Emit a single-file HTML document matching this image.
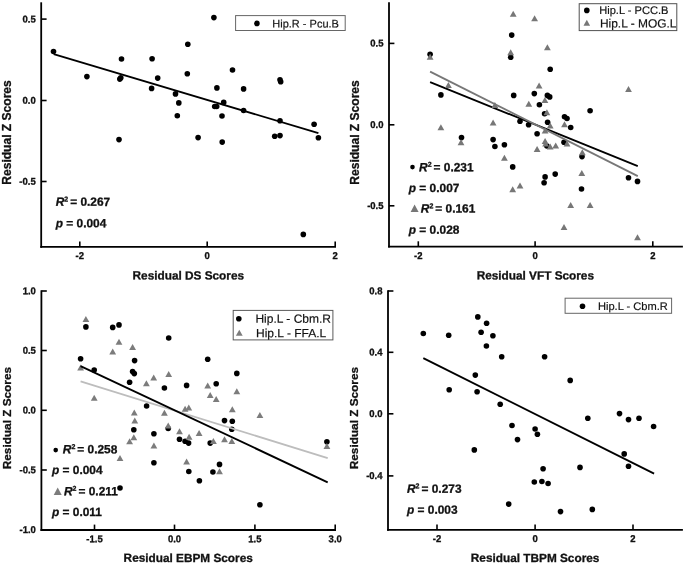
<!DOCTYPE html>
<html><head><meta charset="utf-8"><title>Figure</title>
<style>
html,body{margin:0;padding:0;background:#fff;}
svg{display:block;will-change:transform;filter:blur(0.35px);font-family:'Liberation Sans', sans-serif;}
text{fill:#111;}
text{stroke:#111;stroke-width:0.18px;}
text[font-weight=bold]{stroke:#111;stroke-width:0.3px;}
</style></head>
<body>
<svg width="685" height="564" viewBox="0 0 685 564" font-family="'Liberation Sans', sans-serif">
<rect width="685" height="564" fill="#fff"/>
<line x1="41.2" y1="2.3" x2="41.2" y2="247.8" stroke="#000" stroke-width="1.8"/>
<line x1="40.300000000000004" y1="246.9" x2="336" y2="246.9" stroke="#000" stroke-width="1.8"/>
<line x1="41.2" y1="19.1" x2="46.6" y2="19.1" stroke="#000" stroke-width="1.6"/>
<text transform="translate(35.7,22.4) rotate(0.03) scale(1,1.04)" font-size="9.5" font-weight="bold" text-anchor="end">0.5</text>
<line x1="41.2" y1="100.5" x2="46.6" y2="100.5" stroke="#000" stroke-width="1.6"/>
<text transform="translate(35.7,103.8) rotate(0.03) scale(1,1.04)" font-size="9.5" font-weight="bold" text-anchor="end">0.0</text>
<line x1="41.2" y1="181.5" x2="46.6" y2="181.5" stroke="#000" stroke-width="1.6"/>
<text transform="translate(35.7,184.8) rotate(0.03) scale(1,1.04)" font-size="9.5" font-weight="bold" text-anchor="end">-0.5</text>
<line x1="79.8" y1="246.9" x2="79.8" y2="241.5" stroke="#000" stroke-width="1.6"/>
<text transform="translate(79.8,259.1) rotate(0.03) scale(1,1.04)" font-size="9.5" font-weight="bold" text-anchor="middle">-2</text>
<line x1="207.2" y1="246.9" x2="207.2" y2="241.5" stroke="#000" stroke-width="1.6"/>
<text transform="translate(207.2,259.1) rotate(0.03) scale(1,1.04)" font-size="9.5" font-weight="bold" text-anchor="middle">0</text>
<line x1="335.2" y1="246.9" x2="335.2" y2="241.5" stroke="#000" stroke-width="1.6"/>
<text transform="translate(335.2,259.1) rotate(0.03) scale(1,1.04)" font-size="9.5" font-weight="bold" text-anchor="middle">2</text>
<line x1="53.7" y1="54.2" x2="318.4" y2="133.1" stroke="#000" stroke-width="1.85"/>
<circle cx="53.5" cy="51.5" r="2.8" fill="#000"/>
<circle cx="86.9" cy="76.6" r="2.8" fill="#000"/>
<circle cx="121.5" cy="59.0" r="2.8" fill="#000"/>
<circle cx="152.1" cy="58.7" r="2.8" fill="#000"/>
<circle cx="120.8" cy="77.8" r="2.8" fill="#000"/>
<circle cx="119.8" cy="79.1" r="2.8" fill="#000"/>
<circle cx="157.7" cy="78.1" r="2.8" fill="#000"/>
<circle cx="151.6" cy="88.4" r="2.8" fill="#000"/>
<circle cx="119.0" cy="139.6" r="2.8" fill="#000"/>
<circle cx="213.9" cy="17.6" r="2.8" fill="#000"/>
<circle cx="187.8" cy="44.2" r="2.8" fill="#000"/>
<circle cx="187.3" cy="73.8" r="2.8" fill="#000"/>
<circle cx="232.5" cy="70.0" r="2.8" fill="#000"/>
<circle cx="175.5" cy="93.9" r="2.8" fill="#000"/>
<circle cx="178.8" cy="102.9" r="2.8" fill="#000"/>
<circle cx="177.3" cy="115.7" r="2.8" fill="#000"/>
<circle cx="216.9" cy="87.9" r="2.8" fill="#000"/>
<circle cx="243.6" cy="88.9" r="2.8" fill="#000"/>
<circle cx="223.7" cy="102.4" r="2.8" fill="#000"/>
<circle cx="214.7" cy="106.5" r="2.8" fill="#000"/>
<circle cx="216.7" cy="106.5" r="2.8" fill="#000"/>
<circle cx="222.0" cy="116.0" r="2.8" fill="#000"/>
<circle cx="243.6" cy="110.5" r="2.8" fill="#000"/>
<circle cx="280.0" cy="79.8" r="2.8" fill="#000"/>
<circle cx="280.7" cy="81.8" r="2.8" fill="#000"/>
<circle cx="280.0" cy="120.8" r="2.8" fill="#000"/>
<circle cx="314.1" cy="124.3" r="2.8" fill="#000"/>
<circle cx="198.1" cy="137.6" r="2.8" fill="#000"/>
<circle cx="222.2" cy="142.1" r="2.8" fill="#000"/>
<circle cx="274.7" cy="136.3" r="2.8" fill="#000"/>
<circle cx="280.0" cy="135.6" r="2.8" fill="#000"/>
<circle cx="318.4" cy="137.8" r="2.8" fill="#000"/>
<circle cx="303.3" cy="234.4" r="2.8" fill="#000"/>
<rect x="235.6" y="15.6" width="109.6" height="14.9" fill="#fff" stroke="#666" stroke-width="1"/>
<circle cx="256.9" cy="23.4" r="2.8" fill="#000"/>
<text transform="translate(272.3,27.4) rotate(0.03)" font-size="11" font-weight="normal" text-anchor="start" >Hip.R - Pcu.B</text>
<text transform="translate(55.7,205.85) rotate(0.03)" font-size="11.9" font-weight="bold"><tspan font-style="italic">R</tspan><tspan font-size="7" dy="-4.4">2</tspan><tspan dy="4.4" dx="-1.3"> = 0.267</tspan></text>
<text transform="translate(55.7,227.20) rotate(0.03)" font-size="11.9" font-weight="bold"><tspan font-style="italic">p</tspan> = 0.004</text>
<text transform="translate(188.3,279.4) rotate(0.03)" font-size="11.8" font-weight="bold" text-anchor="middle" >Residual DS Scores</text>
<text transform="translate(11.0,132.5) rotate(-90)" font-size="12.05" font-weight="bold" text-anchor="middle">Residual Z Scores</text>
<line x1="389.0" y1="2.3" x2="389.0" y2="247.6" stroke="#000" stroke-width="1.8"/>
<line x1="388.1" y1="246.7" x2="682.9" y2="246.7" stroke="#000" stroke-width="1.8"/>
<line x1="389.0" y1="43.4" x2="394.4" y2="43.4" stroke="#000" stroke-width="1.6"/>
<text transform="translate(383.5,46.6) rotate(0.03) scale(1,1.04)" font-size="9.5" font-weight="bold" text-anchor="end">0.5</text>
<line x1="389.0" y1="124.8" x2="394.4" y2="124.8" stroke="#000" stroke-width="1.6"/>
<text transform="translate(383.5,128.1) rotate(0.03) scale(1,1.04)" font-size="9.5" font-weight="bold" text-anchor="end">0.0</text>
<line x1="389.0" y1="205.8" x2="394.4" y2="205.8" stroke="#000" stroke-width="1.6"/>
<text transform="translate(383.5,209.1) rotate(0.03) scale(1,1.04)" font-size="9.5" font-weight="bold" text-anchor="end">-0.5</text>
<line x1="418.3" y1="246.7" x2="418.3" y2="241.29999999999998" stroke="#000" stroke-width="1.6"/>
<text transform="translate(418.3,258.9) rotate(0.03) scale(1,1.04)" font-size="9.5" font-weight="bold" text-anchor="middle">-2</text>
<line x1="535.1" y1="246.7" x2="535.1" y2="241.29999999999998" stroke="#000" stroke-width="1.6"/>
<text transform="translate(535.1,258.9) rotate(0.03) scale(1,1.04)" font-size="9.5" font-weight="bold" text-anchor="middle">0</text>
<line x1="652.8" y1="246.7" x2="652.8" y2="241.29999999999998" stroke="#000" stroke-width="1.6"/>
<text transform="translate(652.8,258.9) rotate(0.03) scale(1,1.04)" font-size="9.5" font-weight="bold" text-anchor="middle">2</text>
<circle cx="430.1" cy="54.2" r="2.8" fill="#000"/>
<circle cx="440.9" cy="94.9" r="2.8" fill="#000"/>
<circle cx="461.5" cy="137.6" r="2.8" fill="#000"/>
<circle cx="493.1" cy="139.6" r="2.8" fill="#000"/>
<circle cx="511.7" cy="35.1" r="2.8" fill="#000"/>
<circle cx="510.7" cy="57.2" r="2.8" fill="#000"/>
<circle cx="513.7" cy="95.4" r="2.8" fill="#000"/>
<circle cx="550.2" cy="69.3" r="2.8" fill="#000"/>
<circle cx="534.3" cy="93.6" r="2.8" fill="#000"/>
<circle cx="547.4" cy="95.4" r="2.8" fill="#000"/>
<circle cx="549.7" cy="96.9" r="2.8" fill="#000"/>
<circle cx="539.4" cy="104.7" r="2.8" fill="#000"/>
<circle cx="544.6" cy="113.7" r="2.8" fill="#000"/>
<circle cx="547.6" cy="122.3" r="2.8" fill="#000"/>
<circle cx="564.5" cy="116.7" r="2.8" fill="#000"/>
<circle cx="567.0" cy="118.5" r="2.8" fill="#000"/>
<circle cx="570.7" cy="127.5" r="2.8" fill="#000"/>
<circle cx="590.1" cy="110.7" r="2.8" fill="#000"/>
<circle cx="520.0" cy="121.3" r="2.8" fill="#000"/>
<circle cx="528.6" cy="124.8" r="2.8" fill="#000"/>
<circle cx="537.1" cy="133.8" r="2.8" fill="#000"/>
<circle cx="494.9" cy="146.5" r="2.8" fill="#000"/>
<circle cx="504.4" cy="144.8" r="2.8" fill="#000"/>
<circle cx="512.7" cy="166.9" r="2.8" fill="#000"/>
<circle cx="546.9" cy="146.0" r="2.8" fill="#000"/>
<circle cx="564.0" cy="142.3" r="2.8" fill="#000"/>
<circle cx="582.0" cy="156.6" r="2.8" fill="#000"/>
<circle cx="555.2" cy="174.1" r="2.8" fill="#000"/>
<circle cx="545.1" cy="176.9" r="2.8" fill="#000"/>
<circle cx="544.1" cy="182.7" r="2.8" fill="#000"/>
<circle cx="581.5" cy="189.0" r="2.8" fill="#000"/>
<circle cx="628.5" cy="177.7" r="2.8" fill="#000"/>
<circle cx="637.5" cy="181.4" r="2.8" fill="#000"/>
<line x1="430.1" y1="82.1" x2="637.8" y2="166.1" stroke="#000" stroke-width="1.85"/>
<polygon points="426.7,59.7 433.5,59.7 430.1,53.7" fill="#777777"/>
<polygon points="445.0,87.9 451.8,87.9 448.4,81.9" fill="#777777"/>
<polygon points="437.5,130.3 444.3,130.3 440.9,124.3" fill="#777777"/>
<polygon points="491.5,107.9 498.3,107.9 494.9,101.9" fill="#777777"/>
<polygon points="489.7,125.5 496.5,125.5 493.1,119.5" fill="#777777"/>
<polygon points="509.8,16.8 516.6,16.8 513.2,10.8" fill="#777777"/>
<polygon points="507.3,55.2 514.1,55.2 510.7,49.2" fill="#777777"/>
<polygon points="531.2,21.3 538.0,21.3 534.6,15.3" fill="#777777"/>
<polygon points="544.0,50.2 550.8,50.2 547.4,44.2" fill="#777777"/>
<polygon points="535.7,88.4 542.5,88.4 539.1,82.4" fill="#777777"/>
<polygon points="525.4,106.7 532.2,106.7 528.8,100.7" fill="#777777"/>
<polygon points="541.5,102.9 548.3,102.9 544.9,96.9" fill="#777777"/>
<polygon points="543.5,115.2 550.3,115.2 546.9,109.2" fill="#777777"/>
<polygon points="546.8,128.5 553.6,128.5 550.2,122.5" fill="#777777"/>
<polygon points="541.7,133.6 548.5,133.6 545.1,127.6" fill="#777777"/>
<polygon points="561.1,127.3 567.9,127.3 564.5,121.3" fill="#777777"/>
<polygon points="625.1,91.9 631.9,91.9 628.5,85.9" fill="#777777"/>
<polygon points="541.7,144.1 548.5,144.1 545.1,138.1" fill="#777777"/>
<polygon points="457.6,145.3 464.4,145.3 461.0,139.3" fill="#777777"/>
<polygon points="501.0,160.8 507.8,160.8 504.4,154.8" fill="#777777"/>
<polygon points="509.3,192.2 516.1,192.2 512.7,186.2" fill="#777777"/>
<polygon points="533.7,152.0 540.5,152.0 537.1,146.0" fill="#777777"/>
<polygon points="542.2,146.5 549.0,146.5 545.6,140.5" fill="#777777"/>
<polygon points="546.8,149.5 553.6,149.5 550.2,143.5" fill="#777777"/>
<polygon points="552.3,148.5 559.1,148.5 555.7,142.5" fill="#777777"/>
<polygon points="563.6,146.5 570.4,146.5 567.0,140.5" fill="#777777"/>
<polygon points="578.9,155.3 585.7,155.3 582.3,149.3" fill="#777777"/>
<polygon points="578.4,175.9 585.2,175.9 581.8,169.9" fill="#777777"/>
<polygon points="516.6,188.4 523.4,188.4 520.0,182.4" fill="#777777"/>
<polygon points="567.3,208.0 574.1,208.0 570.7,202.0" fill="#777777"/>
<polygon points="586.7,208.0 593.5,208.0 590.1,202.0" fill="#777777"/>
<polygon points="560.6,230.1 567.4,230.1 564.0,224.1" fill="#777777"/>
<polygon points="634.1,240.2 640.9,240.2 637.5,234.2" fill="#777777"/>
<line x1="430.1" y1="71.6" x2="637.8" y2="176.1" stroke="#777777" stroke-width="1.85"/>
<rect x="579.2" y="3.7" width="97.6" height="26.9" fill="#fff" stroke="#505050" stroke-width="1"/>
<circle cx="586.8" cy="10.4" r="2.8" fill="#000"/>
<text transform="translate(599.2,13.9) rotate(0.03)" font-size="11.1" font-weight="normal" text-anchor="start" >Hip.L - PCC.B</text>
<polygon points="583.5,25.8 590.1,25.8 586.8,19.8" fill="#777777"/>
<text transform="translate(599.9,27.4) rotate(0.03)" font-size="11.95" font-weight="normal" text-anchor="start" >Hip.L - MOG.L</text>
<circle cx="412.5" cy="167.1" r="2.3" fill="#000"/>
<text transform="translate(419.1,171.15) rotate(0.03)" font-size="11.9" font-weight="bold"><tspan font-style="italic">R</tspan><tspan font-size="7" dy="-4.4">2</tspan><tspan dy="4.4" dx="-1.3"> = 0.231</tspan></text>
<text transform="translate(408.8,192.00) rotate(0.03)" font-size="11.9" font-weight="bold"><tspan font-style="italic">p</tspan> = 0.007</text>
<polygon points="410.6,212.0 418.6,212.0 414.6,204.6" fill="#777777"/>
<text transform="translate(420.8,212.55) rotate(0.03)" font-size="11.9" font-weight="bold"><tspan font-style="italic">R</tspan><tspan font-size="7" dy="-4.4">2</tspan><tspan dy="4.4" dx="-1.3"> = 0.161</tspan></text>
<text transform="translate(408.8,233.70) rotate(0.03)" font-size="11.9" font-weight="bold"><tspan font-style="italic">p</tspan> = 0.028</text>
<text transform="translate(535.3,279.4) rotate(0.03)" font-size="11.8" font-weight="bold" text-anchor="middle" >Residual VFT Scores</text>
<text transform="translate(359.0,132.5) rotate(-90)" font-size="12.05" font-weight="bold" text-anchor="middle">Residual Z Scores</text>
<line x1="41.4" y1="290.3" x2="41.4" y2="530.9" stroke="#000" stroke-width="1.8"/>
<line x1="40.5" y1="530.0" x2="336" y2="530.0" stroke="#000" stroke-width="1.8"/>
<line x1="41.4" y1="291" x2="46.8" y2="291" stroke="#000" stroke-width="1.6"/>
<text transform="translate(35.9,294.2) rotate(0.03) scale(1,1.04)" font-size="9.5" font-weight="bold" text-anchor="end">1.0</text>
<line x1="41.4" y1="350.5" x2="46.8" y2="350.5" stroke="#000" stroke-width="1.6"/>
<text transform="translate(35.9,353.8) rotate(0.03) scale(1,1.04)" font-size="9.5" font-weight="bold" text-anchor="end">0.5</text>
<line x1="41.4" y1="410.3" x2="46.8" y2="410.3" stroke="#000" stroke-width="1.6"/>
<text transform="translate(35.9,413.6) rotate(0.03) scale(1,1.04)" font-size="9.5" font-weight="bold" text-anchor="end">0.0</text>
<line x1="41.4" y1="470" x2="46.8" y2="470" stroke="#000" stroke-width="1.6"/>
<text transform="translate(35.9,473.2) rotate(0.03) scale(1,1.04)" font-size="9.5" font-weight="bold" text-anchor="end">-0.5</text>
<text transform="translate(35.9,533.0) rotate(0.03) scale(1,1.04)" font-size="9.5" font-weight="bold" text-anchor="end">-1.0</text>
<line x1="94.5" y1="530.0" x2="94.5" y2="524.6" stroke="#000" stroke-width="1.6"/>
<text transform="translate(94.5,542.2) rotate(0.03) scale(1,1.04)" font-size="9.5" font-weight="bold" text-anchor="middle">-1.5</text>
<line x1="174.5" y1="530.0" x2="174.5" y2="524.6" stroke="#000" stroke-width="1.6"/>
<text transform="translate(174.5,542.2) rotate(0.03) scale(1,1.04)" font-size="9.5" font-weight="bold" text-anchor="middle">0.0</text>
<line x1="254.9" y1="530.0" x2="254.9" y2="524.6" stroke="#000" stroke-width="1.6"/>
<text transform="translate(254.9,542.2) rotate(0.03) scale(1,1.04)" font-size="9.5" font-weight="bold" text-anchor="middle">1.5</text>
<line x1="335.2" y1="530.0" x2="335.2" y2="524.6" stroke="#000" stroke-width="1.6"/>
<text transform="translate(335.2,542.2) rotate(0.03) scale(1,1.04)" font-size="9.5" font-weight="bold" text-anchor="middle">3.0</text>
<circle cx="85.9" cy="326.9" r="2.8" fill="#000"/>
<circle cx="112.7" cy="327.4" r="2.8" fill="#000"/>
<circle cx="119.0" cy="324.9" r="2.8" fill="#000"/>
<circle cx="80.6" cy="358.8" r="2.8" fill="#000"/>
<circle cx="94.2" cy="370.1" r="2.8" fill="#000"/>
<circle cx="134.6" cy="360.6" r="2.8" fill="#000"/>
<circle cx="132.6" cy="371.6" r="2.8" fill="#000"/>
<circle cx="134.3" cy="373.6" r="2.8" fill="#000"/>
<circle cx="129.6" cy="382.2" r="2.8" fill="#000"/>
<circle cx="168.7" cy="338.0" r="2.8" fill="#000"/>
<circle cx="164.4" cy="388.0" r="2.8" fill="#000"/>
<circle cx="146.6" cy="406.0" r="2.8" fill="#000"/>
<circle cx="207.7" cy="359.3" r="2.8" fill="#000"/>
<circle cx="236.8" cy="373.4" r="2.8" fill="#000"/>
<circle cx="186.6" cy="385.4" r="2.8" fill="#000"/>
<circle cx="216.2" cy="383.7" r="2.8" fill="#000"/>
<circle cx="224.5" cy="420.6" r="2.8" fill="#000"/>
<circle cx="232.3" cy="421.3" r="2.8" fill="#000"/>
<circle cx="133.8" cy="429.8" r="2.8" fill="#000"/>
<circle cx="153.9" cy="433.8" r="2.8" fill="#000"/>
<circle cx="168.2" cy="428.5" r="2.8" fill="#000"/>
<circle cx="153.9" cy="462.7" r="2.8" fill="#000"/>
<circle cx="120.0" cy="488.0" r="2.8" fill="#000"/>
<circle cx="179.5" cy="439.3" r="2.8" fill="#000"/>
<circle cx="185.1" cy="441.3" r="2.8" fill="#000"/>
<circle cx="188.6" cy="443.1" r="2.8" fill="#000"/>
<circle cx="210.2" cy="443.1" r="2.8" fill="#000"/>
<circle cx="231.8" cy="429.3" r="2.8" fill="#000"/>
<circle cx="188.8" cy="471.5" r="2.8" fill="#000"/>
<circle cx="212.9" cy="472.0" r="2.8" fill="#000"/>
<circle cx="219.5" cy="464.4" r="2.8" fill="#000"/>
<circle cx="199.4" cy="480.7" r="2.8" fill="#000"/>
<circle cx="259.9" cy="504.8" r="2.8" fill="#000"/>
<circle cx="326.9" cy="441.8" r="2.8" fill="#000"/>
<line x1="80.6" y1="381.3" x2="327.7" y2="458.2" stroke="#bdbdbd" stroke-width="1.85"/>
<polygon points="82.5,321.9 89.3,321.9 85.9,315.9" fill="#7c7c7c"/>
<polygon points="115.6,344.8 122.4,344.8 119.0,338.8" fill="#7c7c7c"/>
<polygon points="109.3,354.5 116.1,354.5 112.7,348.5" fill="#7c7c7c"/>
<polygon points="129.2,350.0 136.0,350.0 132.6,344.0" fill="#7c7c7c"/>
<polygon points="77.2,370.6 84.0,370.6 80.6,364.6" fill="#7c7c7c"/>
<polygon points="90.8,400.7 97.6,400.7 94.2,394.7" fill="#7c7c7c"/>
<polygon points="143.0,386.2 149.8,386.2 146.4,380.2" fill="#7c7c7c"/>
<polygon points="150.3,380.4 157.1,380.4 153.7,374.4" fill="#7c7c7c"/>
<polygon points="165.3,376.9 172.1,376.9 168.7,370.9" fill="#7c7c7c"/>
<polygon points="130.9,415.6 137.7,415.6 134.3,409.6" fill="#7c7c7c"/>
<polygon points="161.0,415.8 167.8,415.8 164.4,409.8" fill="#7c7c7c"/>
<polygon points="131.4,423.6 138.2,423.6 134.8,417.6" fill="#7c7c7c"/>
<polygon points="204.3,388.4 211.1,388.4 207.7,382.4" fill="#7c7c7c"/>
<polygon points="233.4,394.2 240.2,394.2 236.8,388.2" fill="#7c7c7c"/>
<polygon points="206.8,398.0 213.6,398.0 210.2,392.0" fill="#7c7c7c"/>
<polygon points="212.8,402.0 219.6,402.0 216.2,396.0" fill="#7c7c7c"/>
<polygon points="181.7,411.8 188.5,411.8 185.1,405.8" fill="#7c7c7c"/>
<polygon points="185.4,410.5 192.2,410.5 188.8,404.5" fill="#7c7c7c"/>
<polygon points="228.9,412.3 235.7,412.3 232.3,406.3" fill="#7c7c7c"/>
<polygon points="256.5,418.1 263.3,418.1 259.9,412.1" fill="#7c7c7c"/>
<polygon points="130.4,440.3 137.2,440.3 133.8,434.3" fill="#7c7c7c"/>
<polygon points="126.2,444.3 133.0,444.3 129.6,438.3" fill="#7c7c7c"/>
<polygon points="150.5,448.6 157.3,448.6 153.9,442.6" fill="#7c7c7c"/>
<polygon points="164.8,428.5 171.6,428.5 168.2,422.5" fill="#7c7c7c"/>
<polygon points="116.6,461.1 123.4,461.1 120.0,455.1" fill="#7c7c7c"/>
<polygon points="176.1,434.3 182.9,434.3 179.5,428.3" fill="#7c7c7c"/>
<polygon points="185.7,439.8 192.5,439.8 189.1,433.8" fill="#7c7c7c"/>
<polygon points="195.7,436.0 202.5,436.0 199.1,430.0" fill="#7c7c7c"/>
<polygon points="210.0,444.1 216.8,444.1 213.4,438.1" fill="#7c7c7c"/>
<polygon points="221.1,442.3 227.9,442.3 224.5,436.3" fill="#7c7c7c"/>
<polygon points="228.4,444.1 235.2,444.1 231.8,438.1" fill="#7c7c7c"/>
<polygon points="183.2,464.4 190.0,464.4 186.6,458.4" fill="#7c7c7c"/>
<polygon points="216.1,474.2 222.9,474.2 219.5,468.2" fill="#7c7c7c"/>
<polygon points="323.5,449.1 330.3,449.1 326.9,443.1" fill="#7c7c7c"/>
<line x1="80.6" y1="366.1" x2="327.7" y2="482.3" stroke="#000" stroke-width="1.85"/>
<rect x="233.2" y="310.4" width="99.7" height="29.5" fill="#fff" stroke="#5a5a5a" stroke-width="1"/>
<circle cx="238.8" cy="318.8" r="2.8" fill="#000"/>
<text transform="translate(255.4,322.8) rotate(0.03)" font-size="12" font-weight="normal" text-anchor="start" >Hip.L - Cbm.R</text>
<polygon points="235.9,335.7 242.7,335.7 239.3,329.7" fill="#7c7c7c"/>
<text transform="translate(256.0,337.2) rotate(0.03)" font-size="12" font-weight="normal" text-anchor="start" >Hip.L - FFA.L</text>
<circle cx="55.7" cy="450.1" r="2.3" fill="#000"/>
<text transform="translate(62.8,453.35) rotate(0.03)" font-size="11.9" font-weight="bold"><tspan font-style="italic">R</tspan><tspan font-size="7" dy="-4.4">2</tspan><tspan dy="4.4" dx="-1.3"> = 0.258</tspan></text>
<text transform="translate(52,473.90) rotate(0.03)" font-size="11.9" font-weight="bold"><tspan font-style="italic">p</tspan> = 0.004</text>
<polygon points="53.7,495.0 61.7,495.0 57.7,487.6" fill="#7c7c7c"/>
<text transform="translate(64,495.25) rotate(0.03)" font-size="11.9" font-weight="bold"><tspan font-style="italic">R</tspan><tspan font-size="7" dy="-4.4">2</tspan><tspan dy="4.4" dx="-1.3"> = 0.211</tspan></text>
<text transform="translate(52,516.10) rotate(0.03)" font-size="11.9" font-weight="bold"><tspan font-style="italic">p</tspan> = 0.011</text>
<text transform="translate(188.2,561.9) rotate(0.03)" font-size="11.8" font-weight="bold" text-anchor="middle" >Residual EBPM Scores</text>
<text transform="translate(11.0,418.1) rotate(-90)" font-size="11.8" font-weight="bold" text-anchor="middle">Residual Z Scores</text>
<line x1="388.0" y1="290.3" x2="388.0" y2="530.8" stroke="#000" stroke-width="1.8"/>
<line x1="387.1" y1="529.9" x2="682.9" y2="529.9" stroke="#000" stroke-width="1.8"/>
<line x1="388.0" y1="291" x2="393.4" y2="291" stroke="#000" stroke-width="1.6"/>
<text transform="translate(382.5,294.2) rotate(0.03) scale(1,1.04)" font-size="9.5" font-weight="bold" text-anchor="end">0.8</text>
<line x1="388.0" y1="352.3" x2="393.4" y2="352.3" stroke="#000" stroke-width="1.6"/>
<text transform="translate(382.5,355.6) rotate(0.03) scale(1,1.04)" font-size="9.5" font-weight="bold" text-anchor="end">0.4</text>
<line x1="388.0" y1="413.8" x2="393.4" y2="413.8" stroke="#000" stroke-width="1.6"/>
<text transform="translate(382.5,417.1) rotate(0.03) scale(1,1.04)" font-size="9.5" font-weight="bold" text-anchor="end">0.0</text>
<line x1="388.0" y1="475.9" x2="393.4" y2="475.9" stroke="#000" stroke-width="1.6"/>
<text transform="translate(382.5,479.1) rotate(0.03) scale(1,1.04)" font-size="9.5" font-weight="bold" text-anchor="end">-0.4</text>
<line x1="437" y1="529.9" x2="437" y2="524.5" stroke="#000" stroke-width="1.6"/>
<text transform="translate(437.0,542.1) rotate(0.03) scale(1,1.04)" font-size="9.5" font-weight="bold" text-anchor="middle">-2</text>
<line x1="535.1" y1="529.9" x2="535.1" y2="524.5" stroke="#000" stroke-width="1.6"/>
<text transform="translate(535.1,542.1) rotate(0.03) scale(1,1.04)" font-size="9.5" font-weight="bold" text-anchor="middle">0</text>
<line x1="633.0" y1="529.9" x2="633.0" y2="524.5" stroke="#000" stroke-width="1.6"/>
<text transform="translate(633.0,542.1) rotate(0.03) scale(1,1.04)" font-size="9.5" font-weight="bold" text-anchor="middle">2</text>
<line x1="423.3" y1="358.1" x2="654.1" y2="473.7" stroke="#000" stroke-width="1.85"/>
<circle cx="423.3" cy="333.5" r="2.8" fill="#000"/>
<circle cx="448.7" cy="335.2" r="2.8" fill="#000"/>
<circle cx="477.8" cy="316.9" r="2.8" fill="#000"/>
<circle cx="486.6" cy="323.2" r="2.8" fill="#000"/>
<circle cx="481.1" cy="332.2" r="2.8" fill="#000"/>
<circle cx="492.9" cy="335.7" r="2.8" fill="#000"/>
<circle cx="486.4" cy="346.0" r="2.8" fill="#000"/>
<circle cx="501.7" cy="356.8" r="2.8" fill="#000"/>
<circle cx="475.3" cy="375.1" r="2.8" fill="#000"/>
<circle cx="449.2" cy="389.7" r="2.8" fill="#000"/>
<circle cx="477.1" cy="391.7" r="2.8" fill="#000"/>
<circle cx="500.2" cy="404.3" r="2.8" fill="#000"/>
<circle cx="544.6" cy="356.8" r="2.8" fill="#000"/>
<circle cx="570.2" cy="380.4" r="2.8" fill="#000"/>
<circle cx="587.8" cy="418.3" r="2.8" fill="#000"/>
<circle cx="619.5" cy="413.6" r="2.8" fill="#000"/>
<circle cx="628.5" cy="419.6" r="2.8" fill="#000"/>
<circle cx="639.0" cy="418.3" r="2.8" fill="#000"/>
<circle cx="512.0" cy="425.5" r="2.8" fill="#000"/>
<circle cx="474.3" cy="449.9" r="2.8" fill="#000"/>
<circle cx="508.7" cy="504.1" r="2.8" fill="#000"/>
<circle cx="653.6" cy="426.5" r="2.8" fill="#000"/>
<circle cx="535.1" cy="429.0" r="2.8" fill="#000"/>
<circle cx="537.4" cy="434.3" r="2.8" fill="#000"/>
<circle cx="517.5" cy="439.6" r="2.8" fill="#000"/>
<circle cx="624.2" cy="453.9" r="2.8" fill="#000"/>
<circle cx="628.5" cy="466.2" r="2.8" fill="#000"/>
<circle cx="543.1" cy="468.7" r="2.8" fill="#000"/>
<circle cx="580.0" cy="467.4" r="2.8" fill="#000"/>
<circle cx="534.3" cy="482.0" r="2.8" fill="#000"/>
<circle cx="541.9" cy="481.5" r="2.8" fill="#000"/>
<circle cx="548.1" cy="483.5" r="2.8" fill="#000"/>
<circle cx="560.5" cy="511.6" r="2.8" fill="#000"/>
<circle cx="592.3" cy="509.4" r="2.8" fill="#000"/>
<rect x="565.1" y="298.2" width="106.5" height="15.1" fill="#fff" stroke="#666" stroke-width="1"/>
<circle cx="582.5" cy="306.2" r="2.8" fill="#000"/>
<text transform="translate(597.9,309.9) rotate(0.03)" font-size="11.1" font-weight="normal" text-anchor="start" >Hip.L - Cbm.R</text>
<text transform="translate(407,492.75) rotate(0.03)" font-size="11.9" font-weight="bold"><tspan font-style="italic">R</tspan><tspan font-size="7" dy="-4.4">2</tspan><tspan dy="4.4" dx="-1.3"> = 0.273</tspan></text>
<text transform="translate(407,513.70) rotate(0.03)" font-size="11.9" font-weight="bold"><tspan font-style="italic">p</tspan> = 0.003</text>
<text transform="translate(535.1,561.9) rotate(0.03)" font-size="11.8" font-weight="bold" text-anchor="middle" >Residual TBPM Scores</text>
<text transform="translate(357.5,418.1) rotate(-90)" font-size="11.8" font-weight="bold" text-anchor="middle">Residual Z Scores</text>
</svg>
</body></html>
